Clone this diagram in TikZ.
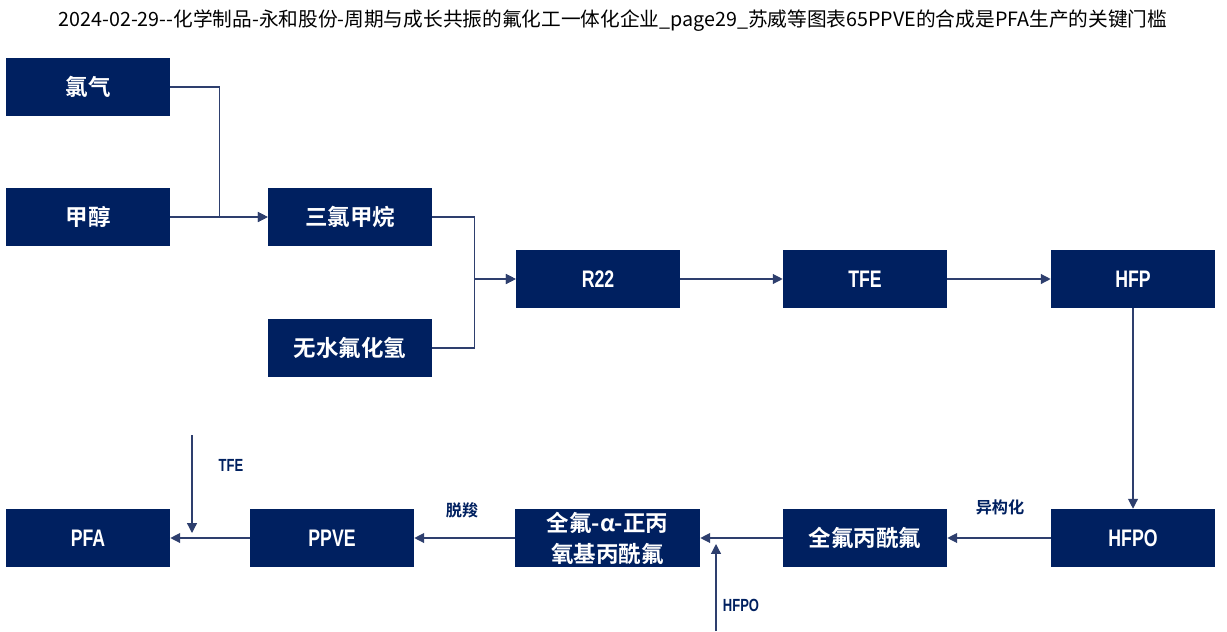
\documentclass[tikz,border=0pt]{standalone}
\usepackage{fontspec}
\newfontfamily\cjk{Noto Sans CJK SC}
\newfontfamily\cjkb{Noto Sans CJK SC Bold}
\newfontfamily\latb[FakeStretch=0.74]{Liberation Sans Bold}
\usetikzlibrary{arrows.meta,positioning}
\definecolor{navy}{HTML}{002060}
\definecolor{wire}{HTML}{2E3F6E}

\tikzset{
  box/.style={fill=navy,text=white,minimum width=4.1cm,minimum height=1.45cm,inner sep=0pt,align=center},
  zh/.style={font=\cjkb\fontsize{16}{19}\selectfont},
  en/.style={font=\latb\fontsize{17}{19}\selectfont},
  flow/.style={draw=wire,line width=0.9pt,-{Triangle[length=7pt,width=7pt]},color=wire},
  tag/.style={text=navy,inner sep=0pt},
}

\begin{document}
\begin{tikzpicture}[x=0.025cm,y=-0.025cm]
  \useasboundingbox (0,0) rectangle (1227,631);
  \node[font=\cjk\fontsize{14}{16}\selectfont] (title) at (613,21)
    {2024-02-29--化学制品-永和股份-周期与成长共振的氟化工一体化企业\_page29\_苏威等图表65PPVE的合成是PFA生产的关键门槛};

  % upper row
  \node[box,zh] (lvqi) at (88,87) {氯气};
  \node[box,zh] (jiachun) at (88,217) {甲醇};
  \node[box,zh] (sanlv) at (350,217) {三氯甲烷};
  \node[box,zh] (wushui) at (350,348) {无水氟化氢};
  \node[box,en] (r22) at (598,279) {R22};
  \node[box,en] (tfe) at (865,279) {TFE};
  \node[box,en] (hfp) at (1133,279) {HFP};

  % lower row
  \node[box,en] (hfpo) at (1133,538) {HFPO};
  \node[box,zh] (pfpf) at (865,538) {全氟丙酰氟};
  \node[box,zh,minimum width=4.625cm,font=\cjkb\fontsize{16}{22}\selectfont] (ppaf) at (607.5,538) {全氟-α-正丙\\氧基丙酰氟};
  \node[box,en] (ppve) at (332,538) {PPVE};
  \node[box,en] (pfa) at (88,538) {PFA};

  \coordinate (tfein) at (192,435);
  \coordinate (tfeend) at (192,533);
  \coordinate (hfpoin) at (716,631);
  \coordinate (hfpoend) at (716,544);

  \draw[flow] (lvqi.east) -- ++(49,0) |- (sanlv.west);
  \draw[flow] (jiachun) -- (sanlv);
  \draw[flow] (sanlv.east) -- ++(42,0) |- (r22.west);
  \draw[flow] (wushui.east) -- ++(42,0) |- (r22.west);
  \draw[flow] (r22) -- (tfe);
  \draw[flow] (tfe) -- (hfp);
  \draw[flow] (hfp) -- (hfpo);
  \draw[flow] (hfpo) -- (pfpf);
  \draw[flow] (pfpf) -- (ppaf);
  \draw[flow] (ppaf) -- (ppve);
  \draw[flow] (ppve) -- (pfa);
  \draw[flow] (tfein) -- (tfeend);
  \draw[flow] (hfpoin) -- (hfpoend);

  % labels on the arrows
  \node[tag,font=\cjkb\fontsize{11.5}{13}\selectfont] (yigou) at (1000,507) {异构化};
  \node[tag,font=\cjkb\fontsize{11.5}{13}\selectfont] (tuosuo) at (462,510) {脱羧};
  \node[tag,font=\latb\fontsize{12.5}{14}\selectfont] (tfetag) at (231,465) {TFE};
  \node[tag,font=\latb\fontsize{12.5}{14}\selectfont] (hfpotag) at (741,605) {HFPO};
\end{tikzpicture}
\end{document}
